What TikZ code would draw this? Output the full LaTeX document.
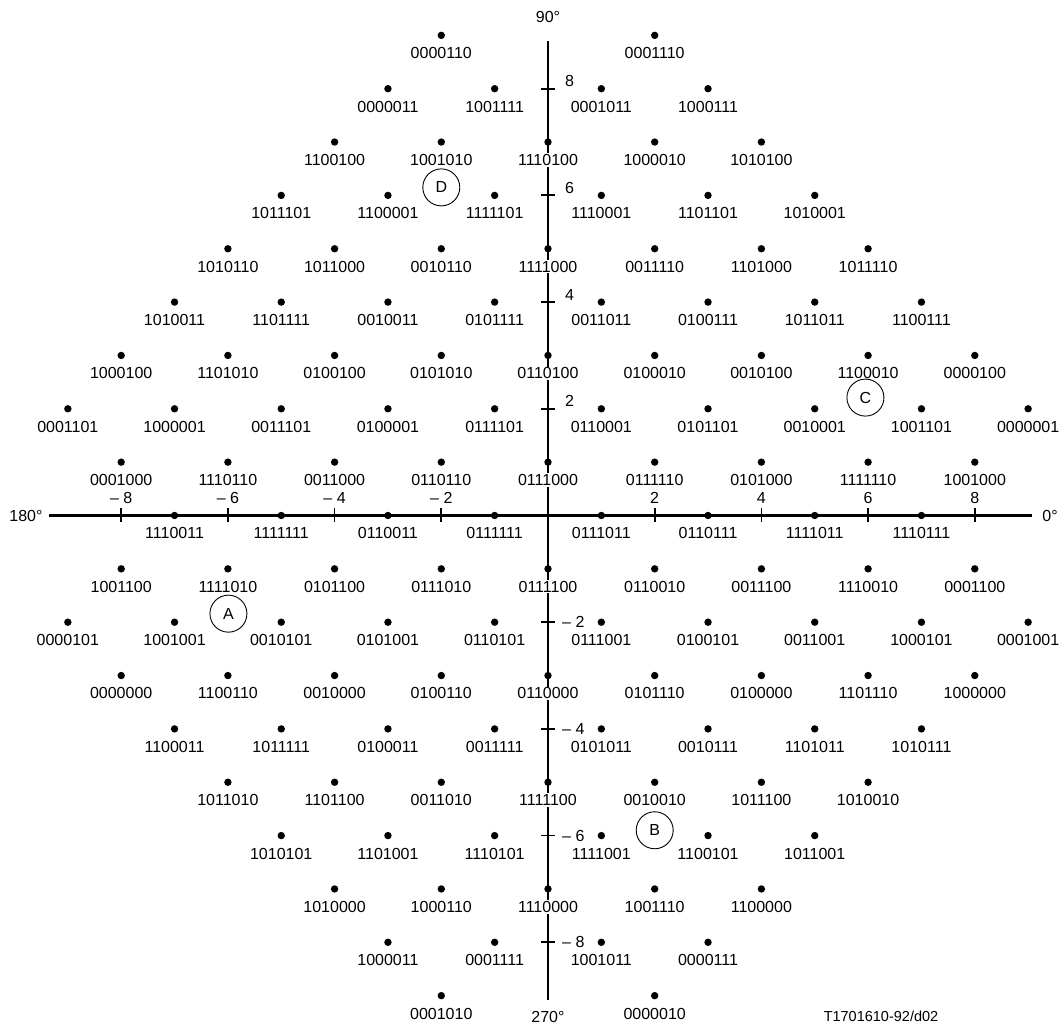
\documentclass[tikz,border=0pt]{standalone}
\usepackage{fontspec}
\setmainfont{Liberation Sans}
\begin{document}
\begin{tikzpicture}[x=53.35pt,y=53.35pt,
  ptdot/.style={circle,fill=black,inner sep=0pt,minimum size=7.4pt},
  codelab/.style={font=\fontsize{16}{18}\selectfont,anchor=base,inner sep=1pt,fill=white,text=black},
  ticklab/.style={font=\fontsize{16}{18}\selectfont,inner sep=0pt,text=black},
  axisline/.style={line width=2.2pt},
  tickline/.style={line width=1.8pt},
  markcirc/.style={circle,draw,line width=0.9pt,minimum size=37pt,inner sep=0pt,font=\fontsize{16}{18}\selectfont,text=black}]
\useasboundingbox (-548pt,-509.5pt) rectangle (513pt,515.5pt);
\def\pts{-2/9/0000110, 2/9/0001110,
-3/8/0000011, -1/8/1001111, 1/8/0001011, 3/8/1000111,
-4/7/1100100, -2/7/1001010, 0/7/1110100, 2/7/1000010, 4/7/1010100,
-5/6/1011101, -3/6/1100001, -1/6/1111101, 1/6/1110001, 3/6/1101101, 5/6/1010001,
-6/5/1010110, -4/5/1011000, -2/5/0010110, 0/5/1111000, 2/5/0011110, 4/5/1101000, 6/5/1011110,
-7/4/1010011, -5/4/1101111, -3/4/0010011, -1/4/0101111, 1/4/0011011, 3/4/0100111, 5/4/1011011, 7/4/1100111,
-8/3/1000100, -6/3/1101010, -4/3/0100100, -2/3/0101010, 0/3/0110100, 2/3/0100010, 4/3/0010100, 6/3/1100010, 8/3/0000100,
-9/2/0001101, -7/2/1000001, -5/2/0011101, -3/2/0100001, -1/2/0111101, 1/2/0110001, 3/2/0101101, 5/2/0010001, 7/2/1001101, 9/2/0000001,
-8/1/0001000, -6/1/1110110, -4/1/0011000, -2/1/0110110, 0/1/0111000, 2/1/0111110, 4/1/0101000, 6/1/1111110, 8/1/1001000,
-7/0/1110011, -5/0/1111111, -3/0/0110011, -1/0/0111111, 1/0/0111011, 3/0/0110111, 5/0/1111011, 7/0/1110111,
-8/-1/1001100, -6/-1/1111010, -4/-1/0101100, -2/-1/0111010, 0/-1/0111100, 2/-1/0110010, 4/-1/0011100, 6/-1/1110010, 8/-1/0001100,
-9/-2/0000101, -7/-2/1001001, -5/-2/0010101, -3/-2/0101001, -1/-2/0110101, 1/-2/0111001, 3/-2/0100101, 5/-2/0011001, 7/-2/1000101, 9/-2/0001001,
-8/-3/0000000, -6/-3/1100110, -4/-3/0010000, -2/-3/0100110, 0/-3/0110000, 2/-3/0101110, 4/-3/0100000, 6/-3/1101110, 8/-3/1000000,
-7/-4/1100011, -5/-4/1011111, -3/-4/0100011, -1/-4/0011111, 1/-4/0101011, 3/-4/0010111, 5/-4/1101011, 7/-4/1010111,
-6/-5/1011010, -4/-5/1101100, -2/-5/0011010, 0/-5/1111100, 2/-5/0010010, 4/-5/1011100, 6/-5/1010010,
-5/-6/1010101, -3/-6/1101001, -1/-6/1110101, 1/-6/1111001, 3/-6/1100101, 5/-6/1011001,
-4/-7/1010000, -2/-7/1000110, 0/-7/1110000, 2/-7/1001110, 4/-7/1100000,
-3/-8/1000011, -1/-8/0001111, 1/-8/1001011, 3/-8/0000111,
-2/-9/0001010, 2/-9/0000010}
% axes
\coordinate (W) at (-499pt,0);
\coordinate (E) at (484pt,0);
\coordinate (N) at (0,474pt);
\coordinate (S) at (0,-484pt);
\draw[axisline] (W) -- (E);
\draw[axisline] (N) -- (S);
\foreach \t in {-8,-6,-4,-2,2,4,6,8} {
  \draw[tickline] (\t,-7pt) -- (\t,7pt);
  \draw[tickline] (-7pt,\t) -- (7pt,\t);
}
% tick labels
\foreach \t in {2,4,6,8} {
  \node[ticklab,anchor=base] (hp\t) at (\t,12pt) {\t};
  \node[ticklab,anchor=base] (hm\t) at (-\t,12pt) {\textendash\ \t};
  \node[ticklab,anchor=west,yshift=7.5pt] (vp\t) at (17pt,\t) {\t};
  \node[ticklab,anchor=west] (vm\t) at (14pt,-\t) {\textendash\ \t};
}
% degree labels
\node[ticklab] (d180) at (-522pt,0) {180°};
\node[ticklab] (d0) at (502pt,0) {0°};
\node[ticklab] (d90) at (0,498pt) {90°};
\node[ticklab] (d270) at (0,-501pt) {270°};
% code labels
\foreach \x/\y/\c in \pts {
  \node[codelab,yshift=-23.4pt] (l\c) at (\x,\y) {\c};
}
% points
\foreach \x/\y/\c in \pts {
  \node[ptdot] (p\c) at (\x,\y) {};
}
% marked circles
\node[markcirc] (cA) at (-5.99,-1.84) {A};
\node[markcirc] (cB) at (2,-5.9) {B};
\node[markcirc] (cC) at (5.95,2.21) {C};
\node[markcirc] (cD) at (-2,6.15) {D};
% figure id
\node[font=\fontsize{14.5}{16}\selectfont,inner sep=0pt,text=black] (fid) at (333pt,-501pt) {T1701610-92/d02};
\end{tikzpicture}
\end{document}
